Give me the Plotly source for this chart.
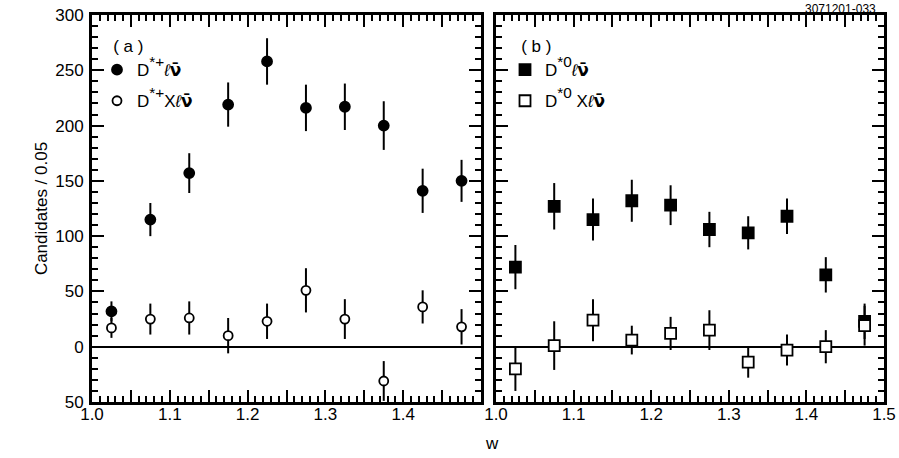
import plotly.graph_objects as go

# ── Datos ────────────────────────────────────────────────────────────────────
w = [1.025, 1.075, 1.125, 1.175, 1.225, 1.275, 1.325, 1.375, 1.425, 1.475]

# (a) D*+
a_excl = [32, 115, 157, 219, 258, 216, 217, 200, 141, 150]
a_excl_err = [9, 15, 18, 20, 21, 21, 21, 22, 20, 19]
a_incl = [17, 25, 26, 10, 23, 51, 25, -31, 36, 18]
a_incl_err = [9, 14, 15, 16, 16, 20, 18, 18, 15, 16]

# (b) D*0
b_excl = [72, 127, 115, 132, 128, 106, 103, 118, 65, 23]
b_excl_err = [20, 21, 19, 19, 18, 16, 15, 16, 16, 16]
b_incl = [-20, 1, 24, 6, 12, 15, -14, -3, 0, 19]
b_incl_err = [20, 22, 19, 13, 15, 18, 14, 14, 15, 18]

x_ticks = [1.0, 1.05, 1.1, 1.15, 1.2, 1.25, 1.3, 1.35, 1.4, 1.45, 1.5]
x_ticktext_a = ["1.0", "", "1.1", "", "1.2", "", "1.3", "", "1.4", "", ""]
x_ticktext_b = ["1.0", "", "1.1", "", "1.2", "", "1.3", "", "1.4", "", "1.5"]
y_ticks = [-50, 0, 50, 100, 150, 200, 250, 300]
y_ticktext = ["50", "0", "50", "100", "150", "200", "250", "300"]

FONT = "Liberation Sans, Arial, Helvetica, sans-serif"
NU = "<span style='font-family:DejaVu Sans'><b>ν\u0304</b></span>"
ELL = "<i>ℓ</i>"


def sup(t):
    # sup = 70% del tamaño actual; se agranda el span para que quede ~15px
    return f"<span style='font-size:22px'><sup>{t}</sup></span>"


def serie(x, y, err, name, symbol, fill, size, xa, ya, legend):
    return go.Scatter(
        x=x, y=y, mode="markers", name=name,
        xaxis=xa, yaxis=ya, legend=legend, legendgroup=name,
        marker=dict(symbol=symbol, size=size, color=fill,
                    line=dict(width=1.8, color="black")),
        error_y=dict(type="data", array=err, visible=True,
                     color="black", thickness=2, width=0),
        cliponaxis=False,
    )


fig = go.Figure()

fig.add_trace(serie(w, a_excl, a_excl_err, f"D{sup('*+')}{ELL}{NU}",
                    "circle", "black", 10, "x", "y", "legend"))
fig.add_trace(serie(w, a_incl, a_incl_err, f"D{sup('*+')}X{ELL}{NU}",
                    "circle", "white", 9, "x", "y", "legend"))
fig.add_trace(serie(w, b_excl, b_excl_err, f"D{sup('*0')}{ELL}{NU}",
                    "square", "black", 11, "x2", "y2", "legend2"))
fig.add_trace(serie(w, b_incl, b_incl_err, f"D{sup('*0')} X{ELL}{NU}",
                    "square", "white", 11, "x2", "y2", "legend2"))

eje = dict(
    showline=True, linewidth=3, linecolor="black", mirror="allticks",
    ticks="inside", ticklen=12, tickwidth=2, tickcolor="black",
    showgrid=False, zeroline=False, automargin=False,
    tickfont=dict(size=17, family=FONT, color="black"),
)
minor_x = dict(ticks="inside", dtick=0.01, ticklen=6, tickwidth=1.5, tickcolor="black")
minor_y = dict(ticks="inside", dtick=10, ticklen=6, tickwidth=1.5, tickcolor="black")

fig.update_layout(
    width=899, height=458,
    margin=dict(l=0, r=0, t=0, b=0),
    paper_bgcolor="white", plot_bgcolor="white",
    font=dict(family=FONT, color="black", size=17),
    xaxis=dict(eje, domain=[92 / 899, 481 / 899], range=[1.0, 1.5],
               tickvals=x_ticks, ticktext=x_ticktext_a, ticklabelstandoff=-5,
               minor=minor_x, anchor="y"),
    xaxis2=dict(eje, domain=[496 / 899, 884 / 899], range=[1.0, 1.5],
                tickvals=x_ticks, ticktext=x_ticktext_b, ticklabelstandoff=-5,
                minor=minor_x, anchor="y2"),
    yaxis=dict(eje, domain=[1 - 402 / 458, 1 - 15 / 458], range=[-50, 300],
               tickvals=y_ticks, ticktext=y_ticktext, minor=minor_y,
               ticklabelstandoff=2,
               zeroline=True, zerolinewidth=1.5, zerolinecolor="black",
               title=dict(text="Candidates / 0.05", standoff=4,
                          font=dict(size=17, family=FONT, color="black")),
               anchor="x"),
    yaxis2=dict(eje, domain=[1 - 402 / 458, 1 - 15 / 458], range=[-50, 300],
                tickvals=y_ticks, showticklabels=False, minor=minor_y,
                zeroline=True, zerolinewidth=1.5, zerolinecolor="black",
                anchor="x2"),
    legend=dict(
        x=97 / 899, y=1 - 30 / 458, xanchor="left", yanchor="top",
        title=dict(text="   ( a )", side="top", font=dict(size=17)),
        bgcolor="rgba(0,0,0,0)", font=dict(size=17, family=FONT),
        tracegroupgap=6, traceorder="grouped",
    ),
    legend2=dict(
        x=505 / 899, y=1 - 30 / 458, xanchor="left", yanchor="top",
        title=dict(text="   ( b )", side="top", font=dict(size=17)),
        bgcolor="rgba(0,0,0,0)", font=dict(size=17, family=FONT),
        tracegroupgap=6, traceorder="grouped",
    ),
    showlegend=True,
    annotations=[
        dict(text="w", x=492 / 899, y=1 - 443 / 458, xref="paper", yref="paper",
             xanchor="center", yanchor="middle",
             showarrow=False, font=dict(size=17, family=FONT)),
        dict(text="3071201-033", x=878 / 899, y=1.0, xref="paper", yref="paper",
             xanchor="right", yanchor="top", showarrow=False,
             font=dict(size=12, family=FONT)),
    ],
)

# el body trae 8px de margen por defecto; se quita para que cuadre la ventana
fig.write_html("out.html", config={"displayModeBar": False},
               post_script="document.body.style.margin='0';")
